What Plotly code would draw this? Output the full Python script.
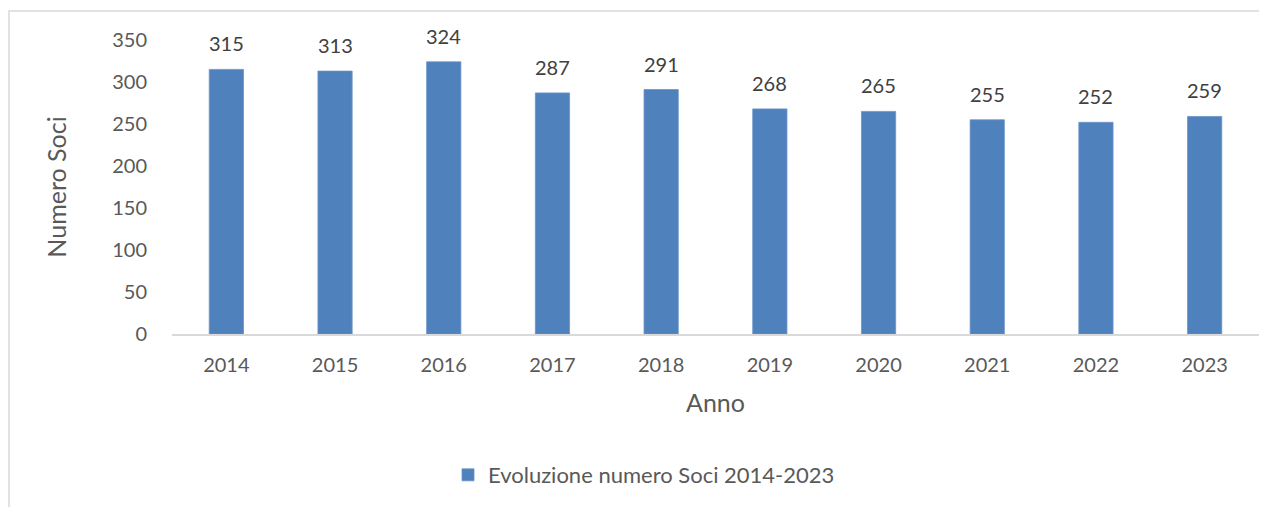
import plotly.graph_objects as go

anni = ["2014", "2015", "2016", "2017", "2018", "2019", "2020", "2021", "2022", "2023"]
soci = [315, 313, 324, 287, 291, 268, 265, 255, 252, 259]
serie_nome = "Evoluzione numero Soci 2014-2023"
y_ticks = [0, 50, 100, 150, 200, 250, 300, 350]

FONT = "Lato"
GREY = "#595959"
BAR = "#4F81BD"

# page body has an 8px default margin
OFF = 8
W, H = 1267 - OFF, 507 - OFF
ml, mr, mt, mb = 172 - OFF, 16 - OFF, 40 - OFF, 173
pw = W - ml - mr
ph = H - mt - mb

fig = go.Figure()
fig.add_trace(go.Bar(
    x=anni, y=soci, name=serie_nome,
    marker=dict(color=BAR, line=dict(color="#6a93c8", width=0.8)),
    showlegend=True,
))

for i, v in enumerate(soci):
    fig.add_annotation(x=i, y=v, xref="x", yref="y", text=str(v), showarrow=False,
                       yanchor="bottom", yshift=12,
                       font=dict(family=FONT, size=20, color="#404040"))

fig.add_shape(type="rect", xref="paper", yref="paper",
              x0=(1 - ml) / pw, x1=1.2, y0=-1.0, y1=1 + (mt - 3) / ph,
              line=dict(color="#d9d9d9", width=1.5), fillcolor="rgba(0,0,0,0)",
              layer="below")

fig.update_layout(
    width=W, height=H,
    margin=dict(l=ml, r=mr, t=mt, b=mb, autoexpand=False),
    plot_bgcolor="white", paper_bgcolor="white",
    bargap=0.685,
    font=dict(family=FONT, size=20, color=GREY),
    showlegend=True,
    legend=dict(orientation="h", x=(448 - 172) / pw, xanchor="left",
                y=-(475 - 334) / ph, yanchor="middle",
                font=dict(family=FONT, size=22, color=GREY),
                itemwidth=30),
    xaxis=dict(
        type="category", range=[-0.5, 9.5],
        showgrid=False, showline=True, linecolor="#d9d9d9", linewidth=1.5,
        ticks="", ticklabelstandoff=12,
        tickfont=dict(family=FONT, size=20, color=GREY),
        title=dict(text="Anno", font=dict(family=FONT, size=25, color=GREY), standoff=20),
    ),
    yaxis=dict(
        range=[0, 350], tickvals=y_ticks, showgrid=False, showline=False,
        zeroline=False, ticks="", ticklabelstandoff=24,
        tickfont=dict(family=FONT, size=20, color=GREY),
        title=dict(text="Numero Soci", font=dict(family=FONT, size=25, color=GREY), standoff=38),
    ),
)

fig.write_html("out.html")
